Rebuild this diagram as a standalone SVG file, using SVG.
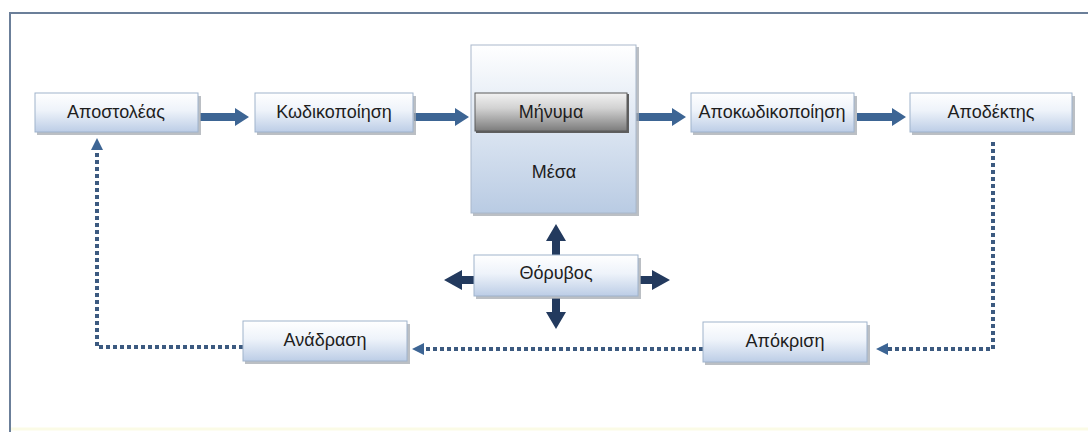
<svg xmlns="http://www.w3.org/2000/svg" width="1088" height="432" viewBox="0 0 1088 432">
  <defs>
    <linearGradient id="boxFill" x1="0" y1="0" x2="0" y2="1">
      <stop offset="0" stop-color="#ffffff"/>
      <stop offset="0.45" stop-color="#eef3fa"/>
      <stop offset="1" stop-color="#bccde6"/>
    </linearGradient>
    <linearGradient id="mediumFill" x1="0" y1="0" x2="0" y2="1">
      <stop offset="0" stop-color="#ffffff"/>
      <stop offset="0.35" stop-color="#e6edf6"/>
      <stop offset="1" stop-color="#b9cbe3"/>
    </linearGradient>
    <linearGradient id="msgFill" x1="0" y1="0" x2="0" y2="1">
      <stop offset="0" stop-color="#f2f2f2"/>
      <stop offset="0.4" stop-color="#d2d2d2"/>
      <stop offset="1" stop-color="#7c7c7c"/>
    </linearGradient>
  </defs>
  <style>
    .box { fill: url(#boxFill); stroke: #9fb3cc; stroke-width: 1; }
    .shadow { fill: #a4a9b0; opacity: 0.75; }
    .lbl { font-family: "Liberation Sans", Arial, sans-serif; font-size: 18px; fill: #1e1e1e; text-anchor: middle; }
    .flow { fill: #3d6594; }
    .noise { fill: #233a5e; }
    .dotted { fill: none; stroke: #3c5a80; stroke-width: 4; stroke-dasharray: 4 3; }
    .frame { fill: none; stroke: #6b7f99; stroke-width: 2; }
  </style>

  <rect x="0" y="0" width="1088" height="432" fill="#ffffff"/>
  <!-- outer frame -->
  <path class="frame" d="M10,432 L10,13 L1088,13"/>
  <line x1="11" y1="429" x2="1088" y2="429" stroke="#fbfbe6" stroke-width="3"/>

  <!-- connectors -->
  <g id="connectors">
    <!-- main flow -->
    <path class="flow" d="M200,113 L235,113 L235,108 L249,117 L235,126 L235,121 L200,121 z"/>
    <path class="flow" d="M414,113 L455,113 L455,108 L469,117 L455,126 L455,121 L414,121 z"/>
    <path class="flow" d="M630,113 L672,113 L672,108 L686,117 L672,126 L672,121 L630,121 z"/>
    <path class="flow" d="M857,113 L892,113 L892,108 L906,117 L892,126 L892,121 L857,121 z"/>
    <!-- noise arrows -->
    <path class="noise" d="M552,255 L552,241 L546,241 L556,224 L566,241 L560,241 L560,255 z"/>
    <path class="noise" d="M552,298 L552,312 L546,312 L556,329 L566,312 L560,312 L560,298 z"/>
    <path class="noise" d="M474,276 L462,276 L462,270 L444,280 L462,290 L462,284 L474,284 z"/>
    <path class="noise" d="M640,276 L652,276 L652,270 L670,280 L652,290 L652,284 L640,284 z"/>
    <!-- feedback loop -->
    <path class="dotted" d="M993,142 L993,349 L888,349"/>
    <path class="flow" d="M888,343 L876,349 L888,355 z"/>
    <path class="dotted" d="M703,349 L424,349"/>
    <path class="flow" d="M424,343 L412,349 L424,355 z"/>
    <path class="dotted" d="M243,347 L97,347 L97,150"/>
    <path class="flow" d="M91,150 L97,138 L103,150 z"/>
  </g>

  <g id="sender">
    <rect class="shadow" x="37" y="96" width="164" height="39"/>
    <rect class="box" x="35" y="93" width="163" height="39"/>
    <text class="lbl" x="116" y="118">Αποστολέας</text>
  </g>

  <g id="encoding">
    <rect class="shadow" x="257" y="96" width="159" height="39"/>
    <rect class="box" x="255" y="93" width="158" height="39"/>
    <text class="lbl" x="334" y="118">Κωδικοποίηση</text>
  </g>

  <g id="medium">
    <rect class="shadow" x="473" y="47" width="166" height="169"/>
    <rect x="471" y="45" width="165" height="168" fill="url(#mediumFill)" stroke="#a9b8cb" stroke-width="1"/>
    <text class="lbl" x="554" y="178">Μέσα</text>
  </g>

  <g id="message">
    <rect x="476" y="94" width="153" height="39" fill="#5e5e5e"/>
    <rect x="475" y="93" width="152" height="38" fill="url(#msgFill)" stroke="#5a5a5a" stroke-width="1"/>
    <text class="lbl" x="551" y="118">Μήνυμα</text>
  </g>

  <g id="decoding">
    <rect class="shadow" x="693" y="96" width="164" height="39"/>
    <rect class="box" x="691" y="93" width="163" height="39"/>
    <text class="lbl" x="772" y="118">Αποκωδικοποίηση</text>
  </g>

  <g id="receiver">
    <rect class="shadow" x="912" y="96" width="163" height="39"/>
    <rect class="box" x="910" y="93" width="162" height="39"/>
    <text class="lbl" x="991" y="118">Αποδέκτης</text>
  </g>

  <g id="noise">
    <rect class="shadow" x="476" y="258" width="165" height="41"/>
    <rect class="box" x="474" y="255" width="164" height="41"/>
    <text class="lbl" x="556" y="279">Θόρυβος</text>
  </g>

  <g id="response">
    <rect class="shadow" x="705" y="325" width="165" height="40"/>
    <rect class="box" x="703" y="322" width="164" height="40"/>
    <text class="lbl" x="785" y="347">Απόκριση</text>
  </g>

  <g id="feedback">
    <rect class="shadow" x="245" y="324" width="165" height="40"/>
    <rect class="box" x="243" y="321" width="164" height="40"/>
    <text class="lbl" x="325" y="346">Ανάδραση</text>
  </g>
</svg>
